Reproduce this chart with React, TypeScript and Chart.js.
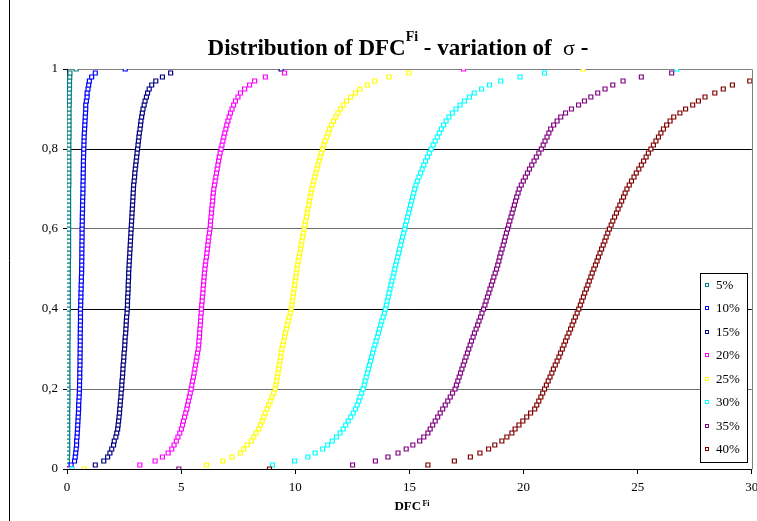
import React, { useEffect, useRef } from 'react';
import { Chart, registerables } from 'chart.js';

Chart.register(...registerables);

const seriesNames = ['5%', '10%', '15%', '20%', '25%', '30%', '35%', '40%'];
const seriesColors = ['#008080', '#0000FF', '#000080', '#FF00FF', '#FFFF00', '#00FFFF', '#800080', '#800000'];

const cumulativeProbability = [
  0,
  0.01, 0.02, 0.03, 0.04, 0.05, 0.06, 0.07, 0.08, 0.09, 0.1,
  0.11, 0.12, 0.13, 0.14, 0.15, 0.16, 0.17, 0.18, 0.19, 0.2,
  0.21, 0.22, 0.23, 0.24, 0.25, 0.26, 0.27, 0.28, 0.29, 0.3,
  0.31, 0.32, 0.33, 0.34, 0.35, 0.36, 0.37, 0.38, 0.39, 0.4,
  0.41, 0.42, 0.43, 0.44, 0.45, 0.46, 0.47, 0.48, 0.49, 0.5,
  0.51, 0.52, 0.53, 0.54, 0.55, 0.56, 0.57, 0.58, 0.59, 0.6,
  0.61, 0.62, 0.63, 0.64, 0.65, 0.66, 0.67, 0.68, 0.69, 0.7,
  0.71, 0.72, 0.73, 0.74, 0.75, 0.76, 0.77, 0.78, 0.79, 0.8,
  0.81, 0.82, 0.83, 0.84, 0.85, 0.86, 0.87, 0.88, 0.89, 0.9,
  0.91, 0.92, 0.93, 0.94, 0.95, 0.96, 0.97, 0.98, 0.99, 1,
];

const dfc5 = [
  0.02,
  0.02, 0.02, 0.02, 0.03, 0.03, 0.03, 0.03, 0.03, 0.03, 0.03,
  0.03, 0.03, 0.03, 0.03, 0.03, 0.04, 0.04, 0.04, 0.04, 0.04,
  0.04, 0.04, 0.04, 0.04, 0.04, 0.04, 0.04, 0.04, 0.04, 0.04,
  0.04, 0.04, 0.05, 0.05, 0.05, 0.05, 0.05, 0.05, 0.05, 0.06,
  0.06, 0.06, 0.06, 0.06, 0.06, 0.06, 0.06, 0.06, 0.06, 0.06,
  0.06, 0.06, 0.07, 0.07, 0.07, 0.07, 0.07, 0.07, 0.07, 0.07,
  0.07, 0.07, 0.07, 0.07, 0.07, 0.07, 0.07, 0.07, 0.07, 0.07,
  0.08, 0.08, 0.08, 0.08, 0.08, 0.08, 0.08, 0.08, 0.08, 0.08,
  0.08, 0.08, 0.09, 0.09, 0.09, 0.09, 0.09, 0.09, 0.09, 0.09,
  0.1, 0.1, 0.1, 0.1, 0.11, 0.11, 0.11, 0.12, 0.13, 0.4,
];

const dfc10 = [
  0.05,
  0.18, 0.33, 0.36, 0.38, 0.4, 0.42, 0.42, 0.44, 0.45, 0.46,
  0.47, 0.48, 0.49, 0.5, 0.51, 0.51, 0.52, 0.53, 0.54, 0.545,
  0.55, 0.55, 0.56, 0.56, 0.56, 0.57, 0.57, 0.57, 0.575, 0.575,
  0.58, 0.58, 0.58, 0.58, 0.585, 0.585, 0.59, 0.59, 0.59, 0.59,
  0.6, 0.6, 0.61, 0.61, 0.62, 0.62, 0.63, 0.63, 0.64, 0.64,
  0.645, 0.645, 0.65, 0.65, 0.65, 0.655, 0.655, 0.66, 0.66, 0.66,
  0.665, 0.67, 0.67, 0.675, 0.68, 0.68, 0.685, 0.69, 0.695, 0.7,
  0.7, 0.705, 0.71, 0.71, 0.715, 0.72, 0.72, 0.725, 0.73, 0.735,
  0.74, 0.745, 0.75, 0.76, 0.77, 0.78, 0.79, 0.8, 0.81, 0.82,
  0.82, 0.85, 0.88, 0.88, 0.92, 0.95, 0.98, 1.08, 1.24, 2.55,
];

const dfc15 = [
  0.06,
  1.24, 1.61, 1.78, 1.88, 1.96, 2.04, 2.07, 2.14, 2.18, 2.22,
  2.24, 2.26, 2.28, 2.3, 2.31, 2.33, 2.34, 2.36, 2.37, 2.39,
  2.4, 2.41, 2.43, 2.44, 2.45, 2.46, 2.48, 2.49, 2.5, 2.52,
  2.53, 2.54, 2.55, 2.57, 2.58, 2.59, 2.6, 2.61, 2.63, 2.64,
  2.65, 2.65, 2.66, 2.67, 2.68, 2.68, 2.69, 2.7, 2.7, 2.71,
  2.72, 2.73, 2.74, 2.75, 2.76, 2.77, 2.78, 2.79, 2.8, 2.81,
  2.82, 2.83, 2.84, 2.85, 2.86, 2.87, 2.88, 2.89, 2.9, 2.91,
  2.92, 2.94, 2.96, 2.97, 2.99, 3.01, 3.03, 3.05, 3.07, 3.09,
  3.11, 3.13, 3.15, 3.17, 3.2, 3.22, 3.24, 3.27, 3.3, 3.33,
  3.38, 3.42, 3.48, 3.53, 3.6, 3.71, 3.89, 4.18, 4.54, 9.38,
];

const dfc20 = [
  0.07,
  3.19, 3.86, 4.18, 4.43, 4.59, 4.69, 4.79, 4.86, 4.94, 5.01,
  5.06, 5.1, 5.15, 5.2, 5.25, 5.28, 5.32, 5.36, 5.4, 5.44,
  5.47, 5.5, 5.54, 5.57, 5.6, 5.63, 5.66, 5.69, 5.72, 5.75,
  5.77, 5.78, 5.8, 5.81, 5.82, 5.84, 5.85, 5.86, 5.88, 5.89,
  5.9, 5.92, 5.93, 5.95, 5.96, 5.98, 5.99, 6.01, 6.02, 6.04,
  6.06, 6.08, 6.11, 6.13, 6.15, 6.17, 6.19, 6.21, 6.24, 6.26,
  6.28, 6.29, 6.31, 6.33, 6.34, 6.36, 6.38, 6.39, 6.41, 6.43,
  6.46, 6.49, 6.52, 6.55, 6.58, 6.61, 6.64, 6.67, 6.71, 6.75,
  6.79, 6.83, 6.87, 6.91, 6.96, 7.0, 7.05, 7.1, 7.16, 7.23,
  7.3, 7.38, 7.49, 7.6, 7.78, 8.0, 8.22, 8.69, 9.53, 17.37,
];

const dfc25 = [
  0.76,
  6.11, 6.83, 7.23, 7.6, 7.74, 7.89, 8.08, 8.18, 8.28, 8.4,
  8.47, 8.55, 8.62, 8.69, 8.76, 8.83, 8.9, 8.98, 9.05, 9.12,
  9.15, 9.18, 9.21, 9.24, 9.27, 9.3, 9.33, 9.36, 9.38, 9.41,
  9.45, 9.49, 9.53, 9.57, 9.61, 9.65, 9.69, 9.73, 9.78, 9.82,
  9.85, 9.87, 9.9, 9.92, 9.95, 9.97, 10.0, 10.02, 10.05, 10.07,
  10.1, 10.13, 10.17, 10.2, 10.23, 10.26, 10.29, 10.32, 10.36, 10.39,
  10.42, 10.45, 10.49, 10.52, 10.55, 10.59, 10.62, 10.65, 10.69, 10.72,
  10.76, 10.81, 10.85, 10.9, 10.95, 10.99, 11.04, 11.09, 11.14, 11.19,
  11.25, 11.31, 11.38, 11.44, 11.5, 11.59, 11.68, 11.77, 11.87, 11.98,
  12.1, 12.25, 12.42, 12.64, 12.83, 13.16, 13.48, 14.11, 14.97, 22.61,
];

const dfc30 = [
  0.22,
  9.0, 9.97, 10.55, 10.87, 11.2, 11.42, 11.62, 11.81, 11.96, 12.1,
  12.21, 12.32, 12.43, 12.54, 12.64, 12.71, 12.78, 12.84, 12.91, 12.97,
  13.02, 13.06, 13.11, 13.16, 13.2, 13.25, 13.3, 13.34, 13.39, 13.44,
  13.49, 13.54, 13.59, 13.64, 13.69, 13.74, 13.79, 13.85, 13.9, 13.95,
  13.99, 14.03, 14.07, 14.11, 14.15, 14.19, 14.23, 14.28, 14.32, 14.36,
  14.4, 14.44, 14.49, 14.53, 14.57, 14.62, 14.66, 14.7, 14.75, 14.79,
  14.83, 14.88, 14.92, 14.97, 15.01, 15.05, 15.1, 15.14, 15.19, 15.23,
  15.29, 15.35, 15.42, 15.49, 15.56, 15.63, 15.71, 15.79, 15.87, 15.95,
  16.04, 16.13, 16.22, 16.31, 16.4, 16.5, 16.61, 16.73, 16.88, 17.04,
  17.22, 17.41, 17.63, 17.84, 18.16, 18.51, 19.0, 19.85, 20.92, 26.71,
];

const dfc35 = [
  4.9,
  12.51, 13.51, 14.06, 14.5, 14.86, 15.15, 15.45, 15.63, 15.81, 15.91,
  16.02, 16.13, 16.24, 16.35, 16.46, 16.57, 16.68, 16.79, 16.89, 17.0,
  17.06, 17.12, 17.18, 17.24, 17.3, 17.36, 17.42, 17.48, 17.54, 17.6,
  17.66, 17.72, 17.79, 17.85, 17.92, 17.99, 18.05, 18.12, 18.18, 18.25,
  18.31, 18.36, 18.42, 18.48, 18.53, 18.59, 18.65, 18.7, 18.76, 18.82,
  18.87, 18.92, 18.96, 19.01, 19.06, 19.11, 19.16, 19.2, 19.25, 19.3,
  19.35, 19.4, 19.45, 19.5, 19.55, 19.6, 19.65, 19.7, 19.76, 19.81,
  19.9, 19.99, 20.08, 20.17, 20.26, 20.36, 20.46, 20.56, 20.67, 20.78,
  20.86, 20.94, 21.03, 21.11, 21.19, 21.32, 21.47, 21.63, 21.84, 22.1,
  22.41, 22.67, 22.95, 23.25, 23.57, 23.91, 24.36, 25.16, 26.49, 31.5,
];

const dfc40 = [
  8.87,
  15.81, 16.97, 17.67, 18.09, 18.47, 18.74, 19.05, 19.27, 19.49, 19.63,
  19.8, 19.97, 20.14, 20.31, 20.49, 20.58, 20.67, 20.76, 20.84, 20.92,
  21.0, 21.08, 21.16, 21.24, 21.31, 21.39, 21.47, 21.55, 21.62, 21.7,
  21.77, 21.84, 21.91, 21.99, 22.06, 22.13, 22.2, 22.27, 22.35, 22.42,
  22.49, 22.55, 22.62, 22.68, 22.75, 22.82, 22.88, 22.95, 23.01, 23.08,
  23.15, 23.22, 23.28, 23.35, 23.42, 23.49, 23.56, 23.62, 23.69, 23.76,
  23.84, 23.91, 23.99, 24.07, 24.14, 24.22, 24.3, 24.38, 24.45, 24.53,
  24.63, 24.73, 24.84, 24.94, 25.05, 25.16, 25.26, 25.37, 25.47, 25.58,
  25.69, 25.8, 25.91, 26.02, 26.13, 26.27, 26.42, 26.58, 26.85, 27.1,
  27.41, 27.66, 27.95, 28.38, 28.75, 29.15, 29.91, 30.8, 32.0, 35.0,
];

const seriesValues = [dfc5, dfc10, dfc15, dfc20, dfc25, dfc30, dfc35, dfc40];

const xTickValues = [0, 5, 10, 15, 20, 25, 30];
const yTickLabels = ['0', '0,2', '0,4', '0,6', '0,8', '1'];

const titleMain = 'Distribution of DFC';
const titleSup = 'Fi';
const titleRest = ' - variation of  ';
const titleSigma = 'σ';
const titleEnd = ' -';
const xTitleMain = 'DFC';
const xTitleSup = 'Fi';

const FAM = '"Liberation Serif", "Times New Roman", serif';

const decorPlugin = {
  id: 'decor',
  afterDraw(chart: any) {
    const ctx = chart.ctx as CanvasRenderingContext2D;
    const area = chart.chartArea;
    ctx.save();
    ctx.strokeStyle = '#000';
    ctx.lineWidth = 1;
    ctx.beginPath();
    ctx.moveTo(9.5, 0);
    ctx.lineTo(9.5, 521);
    ctx.stroke();
    ctx.strokeStyle = '#808080';
    ctx.beginPath();
    ctx.moveTo(Math.round(area.right) + 0.5, Math.round(area.top) + 0.5);
    ctx.lineTo(Math.round(area.right) + 0.5, Math.round(area.bottom) + 0.5);
    ctx.stroke();

    ctx.fillStyle = '#000';
    ctx.textAlign = 'left';
    ctx.textBaseline = 'alphabetic';
    const parts = [
      { t: titleMain, f: `bold 23px ${FAM}`, dy: 0 },
      { t: titleSup, f: `bold 14px ${FAM}`, dy: -14 },
      { t: titleRest, f: `bold 23px ${FAM}`, dy: 0 },
      { t: titleSigma, f: `22px ${FAM}`, dy: 0 },
      { t: titleEnd, f: `bold 23px ${FAM}`, dy: 0 },
    ];
    let total = 0;
    const widths = parts.map((p) => {
      ctx.font = p.f;
      const w = ctx.measureText(p.t).width;
      total += w;
      return w;
    });
    let x = 398 - total / 2;
    parts.forEach((p, i) => {
      ctx.font = p.f;
      ctx.fillText(p.t, x, 55 + p.dy);
      x += widths[i];
    });

    ctx.font = `bold 13px ${FAM}`;
    const w1 = ctx.measureText(xTitleMain + ' ').width;
    ctx.font = `bold 8px ${FAM}`;
    const w2 = ctx.measureText(xTitleSup).width;
    const xs = 413 - (w1 + w2) / 2;
    ctx.font = `bold 13px ${FAM}`;
    ctx.fillText(xTitleMain, xs, 510);
    ctx.font = `bold 8px ${FAM}`;
    ctx.fillText(xTitleSup, xs + w1 - 2, 506);

    const lx = 700.5, ly = 273.5, lw = 47, lh = 189;
    ctx.fillStyle = '#fff';
    ctx.fillRect(lx, ly, lw, lh);
    ctx.strokeStyle = '#000';
    ctx.lineWidth = 1;
    ctx.strokeRect(lx, ly, lw, lh);
    ctx.font = `13px ${FAM}`;
    ctx.textBaseline = 'middle';
    seriesNames.forEach((name, i) => {
      const cy = 285 + i * 23.45;
      ctx.fillStyle = '#fff';
      ctx.fillRect(705.5, Math.round(cy) - 1.5, 3, 3);
      ctx.strokeStyle = seriesColors[i];
      ctx.strokeRect(705.5, Math.round(cy) - 1.5, 3, 3);
      ctx.fillStyle = '#000';
      ctx.fillText(name, 716, cy + 0.5);
    });
    ctx.restore();
  },
};

export default function App() {
  const canvasRef = useRef<HTMLCanvasElement | null>(null);

  useEffect(() => {
    if (!canvasRef.current) return;
    const datasets = seriesValues.map((vals, si) => ({
      label: seriesNames[si],
      data: vals.map((v, i) => ({ x: v, y: cumulativeProbability[i] })),
      showLine: false,
      pointStyle: 'rect' as const,
      pointRadius: 2.8,
      pointBorderWidth: 1.2,
      borderColor: seriesColors[si],
      backgroundColor: '#ffffff',
      pointBackgroundColor: '#ffffff',
      pointBorderColor: seriesColors[si],
      order: seriesNames.length - 1 - si,
    }));

    const chart = new Chart(canvasRef.current, {
      type: 'scatter',
      data: { datasets },
      plugins: [decorPlugin],
      options: {
        animation: false,
        responsive: true,
        maintainAspectRatio: false,
        events: [],
        layout: { padding: { top: 69, left: 0, right: 2, bottom: 0 } },
        plugins: {
          legend: { display: false },
          title: { display: false },
          tooltip: { enabled: false },
        },
        font: { family: FAM, size: 13 },
        scales: {
          x: {
            type: 'linear',
            min: 0,
            max: 30,
            afterBuildTicks: (scale: any) => {
              scale.ticks = xTickValues.map((v) => ({ value: v }));
            },
            afterFit: (scale: any) => {
              scale.height = 52;
              scale.paddingLeft = 0;
              scale.paddingRight = 0;
            },
            border: { display: true, color: '#000', width: 1 },
            grid: {
              drawOnChartArea: false,
              drawTicks: true,
              tickLength: 5,
              tickColor: '#000',
              color: '#000',
            },
            ticks: {
              color: '#000',
              padding: 6,
              font: { family: FAM, size: 13 },
              maxRotation: 0,
              autoSkip: false,
            },
          },
          y: {
            type: 'linear',
            min: 0,
            max: 1,
            afterBuildTicks: (scale: any) => {
              scale.ticks = yTickLabels.map((_, i) => ({ value: i * 0.2 }));
            },
            afterFit: (scale: any) => {
              scale.width = 67;
              scale.paddingTop = 0;
              scale.paddingBottom = 0;
            },
            border: { display: true, color: '#000', width: 1 },
            grid: {
              drawTicks: true,
              tickLength: 4,
              tickColor: '#000',
              color: (ctx: any) => {
                const idx = ctx.index;
                if (idx === 5) return '#808080';
                if (idx === 1 || idx === 3) return '#6e6e6e';
                return '#000';
              },
              lineWidth: 1,
            },
            ticks: {
              color: '#000',
              padding: 5,
              font: { family: FAM, size: 13 },
              callback: (_v: any, i: number) => yTickLabels[i],
            },
          },
        },
      } as any,
    });
    return () => chart.destroy();
  }, []);

  return (
    <div style={{ position: 'absolute', left: 0, top: 0, width: 757, height: 521, overflow: 'hidden', background: '#fff' }}>
      <canvas ref={canvasRef} />
    </div>
  );
}
